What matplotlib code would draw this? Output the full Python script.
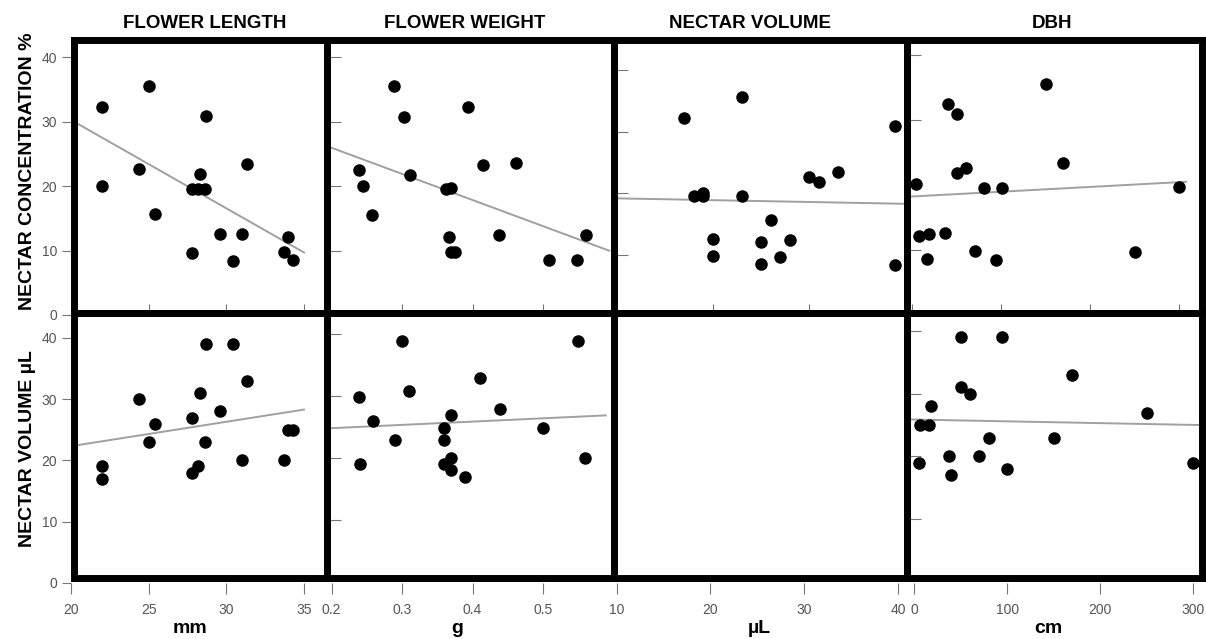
import matplotlib
matplotlib.use("Agg")
import matplotlib.pyplot as plt

plt.rcParams['font.family'] = ['Liberation Sans', 'DejaVu Sans']

# one value per flower (length, concentration and volume are paired)
flower_length = [22.0, 22.0, 25.0, 24.4, 25.4, 27.8, 27.8, 28.2, 28.3, 28.6,
                 28.7, 29.6, 30.45, 31.0, 31.3, 33.7, 34.0, 34.3]
nectar_conc = [32.3, 20.1, 35.6, 22.6, 15.6, 19.5, 9.7, 19.6, 21.9, 19.6,
               30.9, 12.5, 8.4, 12.6, 23.4, 9.8, 12.1, 8.5]
nectar_vol = [17, 19, 23, 30, 26, 18, 27, 19, 31, 23,
              39, 28, 39, 20, 33, 20, 25, 25]

# flower weight panels
weight_c = [0.288, 0.303, 0.393, 0.239, 0.244, 0.258, 0.311, 0.362, 0.370, 0.366,
            0.369, 0.375, 0.415, 0.461, 0.437, 0.508, 0.548, 0.561]
conc_by_weight = [35.5, 30.8, 32.3, 22.5, 20.0, 15.5, 21.8, 19.6, 19.7, 12.1,
                  9.8, 9.8, 23.3, 23.6, 12.4, 8.6, 8.5, 12.5]
weight_v = [0.300, 0.549, 0.410, 0.310, 0.239, 0.439, 0.259, 0.370, 0.360, 0.500,
            0.290, 0.360, 0.240, 0.360, 0.370, 0.370, 0.389, 0.560]
vol_by_weight = [38.9, 38.9, 32.9, 30.9, 29.9, 28.0, 26.0, 26.9, 24.9, 24.9,
                 23.0, 23.0, 19.0, 19.0, 20.0, 18.0, 17.0, 20.0]

# dbh panels
dbh_c = [150, 40, 51, 170, 51, 61, 5, 81, 101, 300, 7.5, 19, 37.5, 16.5, 71, 94, 251]
conc_by_dbh = [35.6, 32.4, 30.9, 23.4, 21.9, 22.6, 20.1, 19.6, 19.5, 19.7,
               12.2, 12.4, 12.6, 8.6, 9.9, 8.5, 9.7]
dbh_v = [50, 94, 170, 50, 60, 17.6, 250, 6, 16, 80, 150, 37, 70, 4.7, 300, 40, 100]
vol_by_dbh = [39, 39, 33, 31, 30, 28, 27, 25, 25, 23, 23, 20, 20, 19, 19, 17, 18]

# regression lines: (x start, x end), (y start, y end)
fit_len_conc = ([20.2, 35.0], [30.0, 9.7])
fit_wt_conc = ([0.194, 0.594], [26.2, 10.0])
fit_vol_conc = ([9.7, 40.2], [19.2, 18.3])
fit_dbh_conc = ([-5.0, 308.0], [18.2, 20.5])
fit_len_vol = ([20.2, 35.0], [22.4, 28.3])
fit_wt_vol = ([0.194, 0.589], [24.8, 26.9])
fit_dbh_vol = ([-7.8, 307.0], [25.9, 25.0])

col_titles = ["FLOWER LENGTH", "FLOWER WEIGHT", "NECTAR VOLUME", "DBH"]
row_labels = ["NECTAR CONCENTRATION %", "NECTAR VOLUME µL"]
units = ["mm", "g", "µL", "cm"]
x_ticks = [[20, 25, 30, 35], [0.2, 0.3, 0.4, 0.5], [10, 20, 30, 40], [0, 100, 200, 300]]
y_ticks = [0, 10, 20, 30, 40]

W, H = 1206, 639
X_EDGES = [73.5, 327, 614, 907, 1202]
Y_EDGES = [39.5, 312.5, 578]
GRAY = '#777777'
LABEL_GRAY = '#555555'


def box(x0, x1, y0, y1):
    return [x0 / W, 1 - y1 / H, (x1 - x0) / W, (y1 - y0) / H]


# row, col -> data, fit, limits, inside ticks (left, bottom)
panels = [
    (0, 0, flower_length, nectar_conc, fit_len_conc, (20.16, 36.48), (0.39, 42.76), None, [25, 30, 35]),
    (0, 1, weight_c, conc_by_weight, fit_wt_conc, (0.1936, 0.6007), (0.42, 42.74), [10, 20, 30, 40], [0.3, 0.4, 0.5]),
    (0, 2, nectar_vol, nectar_conc, fit_vol_conc, (9.69, 40.21), (0.68, 44.95), [10, 20, 30, 40], [20, 30]),
    (0, 3, dbh_c, conc_by_dbh, fit_dbh_conc, (-5.6, 325.8), (0.38, 42.4), [10, 20, 30, 40], [0, 100, 200, 300]),
    (1, 0, flower_length, nectar_vol, fit_len_vol, (20.16, 36.48), (0.77, 44.17), None, None),
    (1, 1, weight_v, vol_by_weight, fit_wt_vol, (0.1936, 0.6007), (0.63, 43.52), [10, 20, 30, 40], None),
    (1, 2, None, None, None, (9.71, 40.96), (0, 1), None, None),
    (1, 3, dbh_v, vol_by_dbh, fit_dbh_vol, (-7.85, 309.4), (0.59, 42.96), [10, 20, 30, 40], None),
]

fig = plt.figure(figsize=(W / 100, H / 100), dpi=100)

for r, c, xs, ys, fit, xl, yl, lt, bt in panels:
    ax = fig.add_axes(box(X_EDGES[c], X_EDGES[c + 1], Y_EDGES[r], Y_EDGES[r + 1]), zorder=2)
    ax.set_xlim(xl)
    ax.set_ylim(yl)
    ax.patch.set_alpha(0)
    for s in ax.spines.values():
        s.set_linewidth(5)
        s.set_color('black')
    ax.set_yticks(lt if lt else [])
    ax.set_xticks(bt if bt else [])
    ax.tick_params(axis='y', direction='in', length=10, width=0.8, color=GRAY, labelleft=False)
    ax.tick_params(axis='x', direction='in', length=6.5, width=0.8, color=GRAY, labelbottom=False)
    if fit is not None:
        ax.plot(fit[0], fit[1], color='#a0a0a0', lw=1.4, zorder=2)
    if xs is not None:
        ax.plot(xs, ys, 'o', color='black', ms=8, mec='black', zorder=3)

# outer labelled y axes (left column)
for py0, py40 in [(315, 57.3), (582.7, 338)]:
    ta = fig.add_axes(box(71, 71.5, py40, py0), frameon=False, zorder=1)
    ta.set_ylim(0, 40)
    ta.set_yticks(y_ticks)
    ta.set_xticks([])
    ta.tick_params(axis='y', direction='out', length=6.5, width=0.8, color=GRAY,
                   labelsize=10, labelcolor=LABEL_GRAY, pad=3.5)

# outer labelled x axes (bottom row)
for c, (px0, px1) in enumerate([(71, 304), (331.5, 543), (616.7, 898), (914.3, 1193.3)]):
    ta = fig.add_axes(box(px0, px1, 582.2, 582.7), frameon=False, zorder=1)
    ta.set_xlim(x_ticks[c][0], x_ticks[c][-1])
    ta.set_xticks(x_ticks[c])
    ta.set_xticklabels([str(v) for v in x_ticks[c]])
    ta.set_yticks([])
    ta.tick_params(axis='x', direction='out', length=7.6, width=0.8, color=GRAY,
                   labelsize=10, labelcolor=LABEL_GRAY, pad=7)

# titles, units and row labels
for x, t in zip([204.2, 465, 750, 1051.7], col_titles):
    fig.text(x / W, 1 - 28.3 / H, t, ha='center', va='baseline', fontsize=13.5, fontweight='bold')
for x, u in zip([190, 456.7, 759, 1048.3], units):
    fig.text(x / W, 1 - 633 / H, u, ha='center', va='baseline', fontsize=14, fontweight='bold')
for y, lab in zip([171.5, 449], row_labels):
    fig.text(32.5 / W, 1 - y / H, lab, ha='center', va='baseline', rotation=90,
             rotation_mode='anchor', fontsize=14, fontweight='bold')

fig.savefig('out.png', dpi=100)
